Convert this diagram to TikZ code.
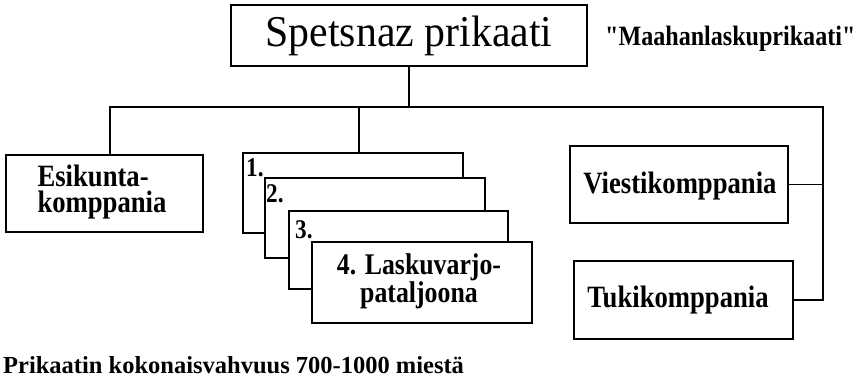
\documentclass[tikz,border=0pt]{standalone}
\usepackage{fontspec}
\setmainfont{Liberation Serif}
\newfontfamily\lblf[FakeStretch=0.86]{Liberation Serif}
\newfontfamily\titlef[FakeStretch=0.95]{Liberation Serif}
\newfontfamily\footf{Liberation Serif}
\begin{document}
\begin{tikzpicture}[x=1pt,y=-1pt,
  boxed/.style={draw=black,fill=white,line width=1.5pt,inner sep=0pt,outer sep=0pt},
  conn/.style={draw=black,line width=1.5pt},
  lbl/.style={font=\lblf\bfseries\fontsize{31}{25}\selectfont,inner sep=0pt},
  num/.style={font=\lblf\bfseries\fontsize{27}{24}\selectfont,inner sep=0pt,anchor=base west}]
\useasboundingbox (0,0) rectangle (862,385);
% top box
\node[boxed,minimum width=356pt,minimum height=61pt,font=\titlef\fontsize{44}{44}\selectfont] (top) at (409,35.5) {Spetsnaz prikaati};
\node[font=\lblf\bfseries\fontsize{28}{28}\selectfont,inner sep=0pt,anchor=west] (alt) at (605,39) {"Maahanlaskuprikaati"};
% bus coordinates
\coordinate (busL) at (110,107);
\coordinate (busM) at (359,107);
\coordinate (busR) at (823,107);
% left box
\node[boxed,minimum width=197pt,minimum height=77pt] (esi) at (104.5,193.5) {};
\node[lbl,align=left,font=\lblf\bfseries\fontsize{31}{26}\selectfont] (esit) at (102,192) {Esikunta-\\komppania};
% stacked boxes
\node[boxed,minimum width=220pt,minimum height=80pt] (b1) at (353,193) {};
\node[boxed,minimum width=220pt,minimum height=80pt] (b2) at (375,218) {};
\node[boxed,minimum width=219pt,minimum height=78pt] (b3) at (398.5,250) {};
\node[boxed,minimum width=220pt,minimum height=81pt] (b4) at (422,282.5) {};
\node[lbl,align=center,font=\lblf\bfseries\fontsize{30}{26}\selectfont] (b4t) at (419,281) {4. Laskuvarjo-\\pataljoona};
\node[num] (n1) at (246,176) {1.};
\node[num] (n2) at (266,202) {2.};
\node[num] (n3) at (295,238) {3.};
% right boxes
\node[boxed,minimum width=218pt,minimum height=77pt] (vies) at (679,184.5) {};
\node[lbl] (viest) at (680,186) {Viestikomppania};
\node[boxed,minimum width=219pt,minimum height=78pt] (tuki) at (683.5,300) {};
\node[lbl] (tukit) at (678,300) {Tukikomppania};
% connectors
\draw[conn] (top.south) -- (top.south |- busL);
\draw[conn] (busL |- esi.north) -- (busL) -- (busR) -- (busR |- tuki.east) -- (tuki.east);
\draw[conn] (busM) -- (busM |- b1.north);
\draw[conn] (vies.east) -- (vies.east -| busR);
% footer
\node[font=\footf\bfseries\fontsize{24.5}{25}\selectfont,inner sep=0pt,anchor=base west] (foot) at (3,373) {Prikaatin kokonaisvahvuus 700-1000 miestä};
\end{tikzpicture}
\end{document}
